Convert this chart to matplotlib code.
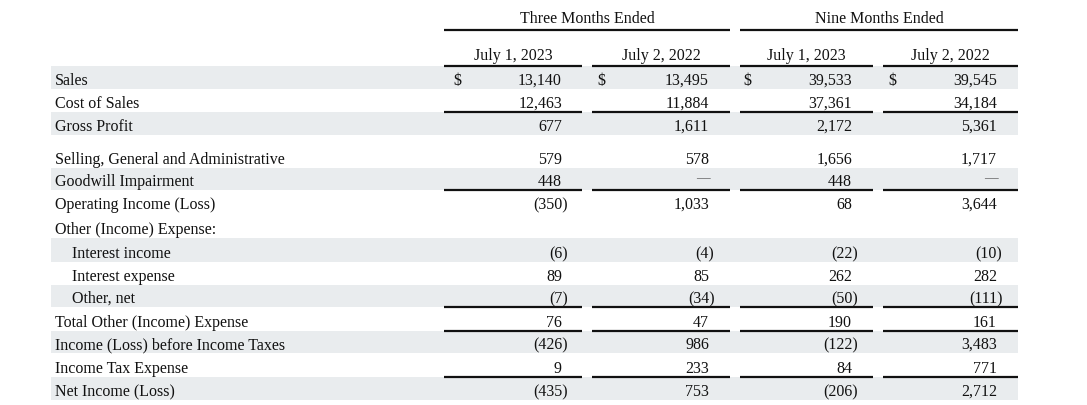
import matplotlib
matplotlib.use("Agg")
import matplotlib.pyplot as plt
from matplotlib.patches import Rectangle

# ---------------- data ----------------
group_headers = ["Three Months Ended", "Nine Months Ended"]
period_labels = ["July 1, 2023", "July 2, 2022", "July 1, 2023", "July 2, 2022"]

row_labels = [
    "Sales", "Cost of Sales", "Gross Profit", "",
    "Selling, General and Administrative", "Goodwill Impairment",
    "Operating Income (Loss)", "Other (Income) Expense:",
    "Interest income", "Interest expense", "Other, net",
    "Total Other (Income) Expense", "Income (Loss) before Income Taxes",
    "Income Tax Expense", "Net Income (Loss)",
]
three_2023 = [13140, 12463, 677, None, 579, 448, -350, None, -6, 89, -7, 76, -426, 9, -435]
three_2022 = [13495, 11884, 1611, None, 578, 0, 1033, None, -4, 85, -34, 47, 986, 233, 753]
nine_2023 = [39533, 37361, 2172, None, 1656, 448, 68, None, -22, 262, -50, 190, -122, 84, -206]
nine_2022 = [39545, 34184, 5361, None, 1717, 0, 3644, None, -10, 282, -111, 161, 3483, 771, 2712]
columns = [three_2023, three_2022, nine_2023, nine_2022]

indented = [False] * 8 + [True] * 3 + [False] * 4
dollar_rows = [0]
underline_rows = [1, 5, 10, 11, 13]
shaded = [True, False, True, False, False, True, False, False,
          True, False, True, False, True, False, True]

# ---------------- layout ----------------
W, H = 1087, 405
fig = plt.figure(figsize=(W / 100, H / 100), dpi=100)
ax = fig.add_axes([0, 0, 1, 1])
ax.set_xlim(0, W)
ax.set_ylim(H, 0)
ax.axis("off")

FONT = "Liberation Serif"
FS = 11.5
TXT = "#111111"
SHADE = "#E9ECEE"
PAREN_W = 5.5

row_heights = [23, 23, 23, 11, 22, 22, 23, 25, 24, 23, 22, 24, 22, 24, 23]
top0 = 66
tops = []
t = top0
for h in row_heights:
    tops.append(t)
    t += h

band_x0, band_x1 = 51, 1018
col_spans = [(444, 582), (592, 730), (740, 873), (883, 1018)]
num_right = [562, 709, 852, 997]
dollar_x = [453, 597, 743, 888]
label_x, indent_x = 55, 72

# shaded bands
for i, s in enumerate(shaded):
    if s:
        ax.add_patch(Rectangle((band_x0, tops[i]), band_x1 - band_x0, row_heights[i],
                               facecolor=SHADE, edgecolor="none", zorder=0))

# group headers
for gi, g in enumerate(group_headers):
    x0 = col_spans[2 * gi][0]
    x1 = col_spans[2 * gi + 1][1]
    ax.text((x0 + x1) / 2, 23, g, fontfamily=FONT, fontsize=FS, color=TXT,
            ha="center", va="baseline")
    ax.plot([x0, x1], [30, 30], color="#111111", lw=1.6, solid_capstyle="butt")

# period headers
for ci, p in enumerate(period_labels):
    x0, x1 = col_spans[ci]
    ax.text((x0 + x1) / 2, 60, p, fontfamily=FONT, fontsize=FS, color=TXT,
            ha="center", va="baseline")
    ax.plot([x0, x1], [65.5, 65.5], color="#111111", lw=1.6, solid_capstyle="butt")


for i, lab in enumerate(row_labels):
    base = tops[i] + row_heights[i] - 4
    if lab:
        ax.text(indent_x if indented[i] else label_x, base, lab, fontfamily=FONT,
                fontsize=FS, color=TXT, ha="left", va="baseline")
    for ci, col in enumerate(columns):
        v = col[i]
        if v is None:
            continue
        if v == 0:
            ax.text(num_right[ci] + 1, base - 4, "\u2014", fontfamily=FONT,
                    fontsize=FS * 0.85, color="#666666", ha="right", va="baseline")
        elif v < 0:
            ax.text(num_right[ci] + PAREN_W, base, f"({abs(v):,})", fontfamily=FONT,
                    fontsize=FS, color=TXT, ha="right", va="baseline")
        else:
            ax.text(num_right[ci], base, f"{v:,}", fontfamily=FONT, fontsize=FS,
                    color=TXT, ha="right", va="baseline")
        if i in dollar_rows:
            ax.text(dollar_x[ci], base, "$", fontfamily=FONT, fontsize=FS,
                    color=TXT, ha="left", va="baseline")
    if i in underline_rows:
        yb = tops[i] + row_heights[i]
        for (x0, x1) in col_spans:
            ax.plot([x0, x1], [yb, yb], color="#111111", lw=1.6, solid_capstyle="butt")

fig.savefig("out.png", dpi=100, facecolor="white")
